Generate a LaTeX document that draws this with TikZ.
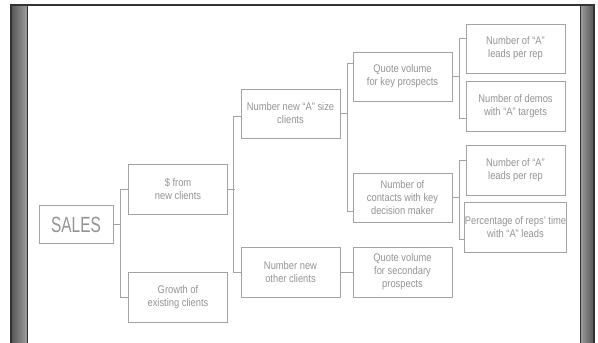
\documentclass[tikz,border=0pt]{standalone}
\usepackage{fontspec}
\setmainfont[FakeStretch=0.85]{Liberation Sans}
\newfontfamily\salesfont[FakeStretch=0.7]{Liberation Sans}
\usetikzlibrary{calc}
\newlength{\du}
\setlength{\du}{1pt}
\definecolor{boxline}{rgb}{0.640000, 0.640000, 0.640000}
\definecolor{boxtext}{rgb}{0.580000, 0.580000, 0.580000}
\definecolor{framedark}{rgb}{0.200000, 0.200000, 0.200000}
\definecolor{framelight}{rgb}{0.620000, 0.620000, 0.620000}
\definecolor{framemid}{rgb}{0.330000, 0.330000, 0.330000}
\tikzset{
  kpibox/.style={draw=boxline, line width=0.9\du, fill=white, text=boxtext,
    align=center, inner sep=0pt, minimum width=99\du, minimum height=49\du,
    font=\fontsize{11}{13}\selectfont},
  linkline/.style={draw=boxline, line width=0.9\du},
}

\begin{document}
\begin{tikzpicture}
\pgftransformxscale{1.000000}
\pgftransformyscale{-1.000000}
\useasboundingbox (0\du,0\du) rectangle (598\du,343\du);
% frame
\shade[left color=framemid, right color=framelight] (11\du,5\du) rectangle (27\du,343\du);
\shade[left color=framelight, right color=framemid] (580\du,5\du) rectangle (594\du,343\du);
\pgfsetlinewidth{2.000000\du}
\pgfsetbuttcap
\pgfsetmiterjoin
\draw[framedark] (11\du,343\du)--(11\du,5\du)--(594\du,5\du)--(594\du,343\du);
\draw[framedark, line width=0.6\du] (27\du,6\du)--(27\du,343\du);
\draw[framedark, line width=0.6\du] (580\du,6\du)--(580\du,343\du);
% boxes
\node[kpibox, minimum width=74\du, minimum height=38\du, font=\salesfont\fontsize{22}{24}\selectfont] (sales) at (76\du,224.5\du){SALES};
\node[kpibox, minimum height=50\du] (newc) at (178\du,189\du){\$ from\\new clients};
\node[kpibox, minimum height=50\du] (grow) at (178\du,297\du){Growth of\\existing clients};
\node[kpibox] (numa) at (290.5\du,113.5\du){Number new ``A'' size\\clients};
\node[kpibox, minimum height=50\du] (numo) at (290.5\du,272\du){Number new\\other clients};
\node[kpibox] (qkey) at (402.5\du,76.5\du){Quote volume\\for key prospects};
\node[kpibox] (cont) at (402.5\du,197.5\du){Number of\\contacts with key\\decision maker};
\node[kpibox, minimum height=50\du] (qsec) at (402.5\du,272\du){Quote volume\\for secondary\\prospects};
\node[kpibox] (leadA) at (515.5\du,48.5\du){Number of ``A''\\leads per rep};
\node[kpibox, minimum height=50\du] (demo) at (515.5\du,106\du){Number of demos\\with ``A'' targets};
\node[kpibox, minimum height=50\du] (leadB) at (515.5\du,170\du){Number of ``A''\\leads per rep};
\node[kpibox, minimum height=50\du] (perc) at (515.5\du,227\du){Percentage of reps' time\\with ``A'' leads};
% connectors
\draw[linkline] (sales.east) -- ++(8\du,0);
\draw[linkline] (newc.west) -- ++(-8\du,0) |- (grow.west);
\draw[linkline] (newc.east) -- ++(7\du,0);
\draw[linkline] ($(numa.west)+(0,2.5\du)$) -- ++(-7\du,0) |- (numo.west);
\draw[linkline] (numa.east) -- ++(8\du,0);
\draw[linkline] ($(qkey.north west)+(0,12\du)$) -- ++(-5\du,0) |- ($(cont.south west)+(0,-11\du)$);
\draw[linkline] (numo.east) -- (qsec.west);
\draw[linkline] (qkey.east) -- ++(8\du,0);
\draw[linkline] ($(leadA.north west)+(0,15\du)$) -- ++(-6\du,0) |- ($(demo.south west)+(0,-13\du)$);
\draw[linkline] (cont.east) -- ++(8\du,0);
\draw[linkline] ($(leadB.north west)+(0,16\du)$) -- ++(-6\du,0) |- ($(perc.south west)+(0,-13\du)$);
\end{tikzpicture}
\end{document}
